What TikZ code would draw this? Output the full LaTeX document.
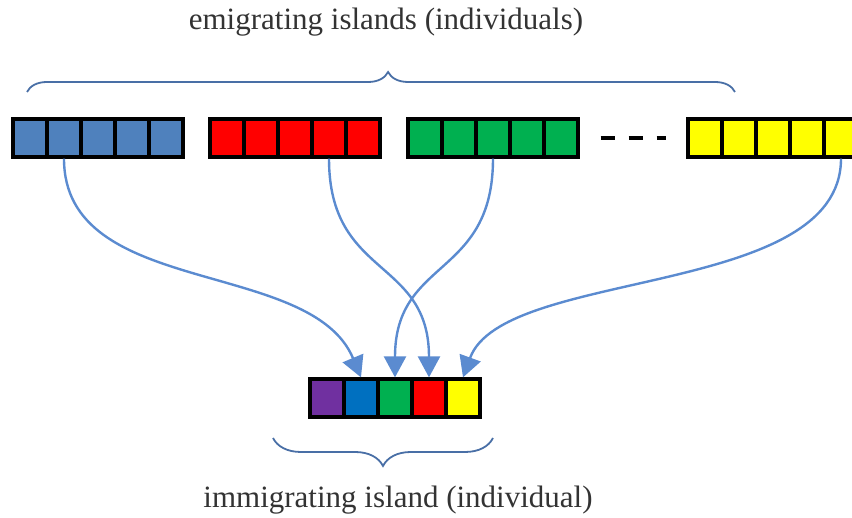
\documentclass[tikz,border=0pt]{standalone}
\usepackage{fontspec}
\setmainfont{Liberation Serif}
\usetikzlibrary{calc, positioning, arrows.meta, decorations.pathreplacing}

\definecolor{cblue}{HTML}{4F81BD}
\definecolor{cred}{HTML}{FF0000}
\definecolor{cgreen}{HTML}{00B050}
\definecolor{cyellow}{HTML}{FFFF00}
\definecolor{cpurple}{HTML}{7030A0}
\definecolor{cdeep}{HTML}{0070C0}
\definecolor{linkblue}{HTML}{5B8BD0}

\tikzset{
  cell/.style={rectangle, draw=black, line width=3.2pt, minimum width=34pt, minimum height=38pt, inner sep=0pt},
  link/.style={draw=linkblue, line width=2.4pt, -{Triangle[length=21pt,width=22pt]}},
  bracket/.style={draw=linkblue!80!black, line width=1.8pt, decorate},
  caption/.style={text=black!80, font=\fontsize{31}{36}\selectfont}
}

\begin{document}
\begin{tikzpicture}[x=1pt,y=1pt]
            \useasboundingbox (0,0) rectangle (852,518);
            % emigrating islands
            \foreach \c/\x in {blue/13, red/210, green/408, yellow/688} {
              \foreach \i in {1,...,5} {
                \node[cell, fill=c\c] (\c\i) at (\x+17+34*\i-34, 380) {};
              }
            }
            % immigrating island
            \foreach \i/\c in {1/cpurple, 2/cdeep, 3/cgreen, 4/cred, 5/cyellow} {
              \node[cell, fill=\c] (new\i) at (310+17+34*\i-34, 120) {};
            }
            \draw[line width=3.5pt, dash pattern=on 14pt off 14pt]
              ($(green5.east)+(21,0)$) -- ($(yellow1.west)+(-20,0)$);
            % migration
            \path[link]
            (blue2.south) .. controls +(0,-140) and +(-50,120) .. (new2.north);
            \path[link]
            (red4.south) .. controls +(0,-120) and +(0,120) .. (new4.north);
            \path[link]
            (green3.south) .. controls +(0,-120) and +(0,120) .. (new3.north);
            \path[link]
            (yellow5.south) .. controls +(0,-140) and +(40,110) .. (new5.north);
            % braces and labels
            \draw[bracket, decoration={brace, amplitude=20pt, aspect=0.51}] (27,426) -- (735,426);
            \draw[bracket, decoration={brace, mirror, amplitude=28pt, aspect=0.5}] (273,80) -- (493,80);
            \node[caption] (top) at (386,496) {emigrating islands (individuals)};
            \node[caption] (bottom) at (398,18) {immigrating island (individual)};
\end{tikzpicture}
\end{document}
